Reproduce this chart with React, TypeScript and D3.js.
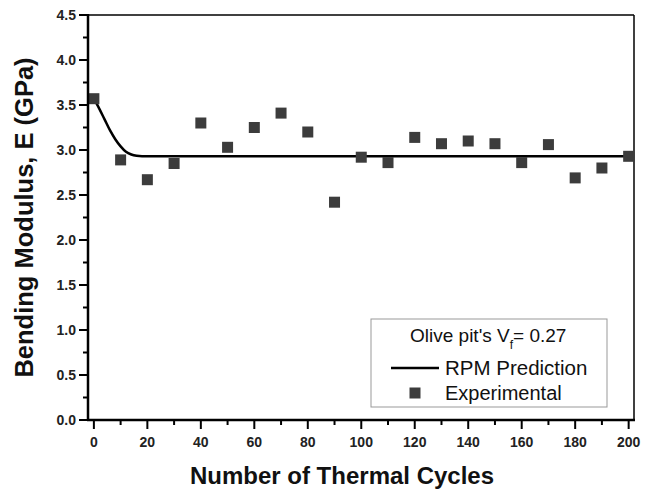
import React from "react";
import * as d3 from "d3";

const cycles = [0, 10, 20, 30, 40, 50, 60, 70, 80, 90, 100, 110, 120, 130, 140, 150, 160, 170, 180, 190, 200];
const modulus = [3.57, 2.89, 2.67, 2.85, 3.30, 3.03, 3.25, 3.41, 3.20, 2.42, 2.92, 2.86, 3.14, 3.07, 3.10, 3.07, 2.86, 3.06, 2.69, 2.80, 2.93];

const fitCycles = [0, 2, 4, 6, 8, 10, 12, 14, 16, 18, 20, 200];
const fitModulus = [3.57, 3.46, 3.34, 3.22, 3.12, 3.04, 2.98, 2.95, 2.935, 2.93, 2.93, 2.93];

const xMajor = [0, 20, 40, 60, 80, 100, 120, 140, 160, 180, 200];
const xMinor = [10, 30, 50, 70, 90, 110, 130, 150, 170, 190];
const yMajor = [0, 0.5, 1, 1.5, 2, 2.5, 3, 3.5, 4, 4.5];
const yMinor = [0.25, 0.75, 1.25, 1.75, 2.25, 2.75, 3.25, 3.75, 4.25];

const W = 651;
const H = 491;
const L = 88, R = 634, T = 15, B = 420;

export default function App() {
  const x = d3.scaleLinear().domain([-2.2, 202]).range([L, R]);
  const y = d3.scaleLinear().domain([0, 4.5]).range([B, T]);
  const line = d3
    .line<number>()
    .x((_, i) => x(fitCycles[i]))
    .y((d) => y(d))
    .curve(d3.curveMonotoneX);
  const font = "'Liberation Sans', Arial, sans-serif";
  const sq = 11;
  const markColor = "#3c3c3c";
  return (
    <svg
      width={W}
      height={H}
      style={{ position: "absolute", left: 0, top: 0, background: "#fff" }}
      fontFamily={font}
    >
      <rect x={0} y={0} width={W} height={H} fill="#fff" />
      {/* frame */}
      <line x1={L} x2={R} y1={T} y2={T} stroke="#000" strokeWidth={1.5} />
      <line x1={R} x2={R} y1={T} y2={B} stroke="#000" strokeWidth={1.5} />
      {/* fit line */}
      <path d={line(fitModulus) || ""} fill="none" stroke="#000" strokeWidth={2.5} />
      {/* points */}
      {cycles.map((c, i) => (
        <rect
          key={i}
          x={x(c) - sq / 2}
          y={y(modulus[i]) - sq / 2}
          width={sq}
          height={sq}
          fill={markColor}
        />
      ))}
      {/* axes */}
      <line x1={L} x2={L} y1={T - 1} y2={B + 1} stroke="#000" strokeWidth={2.5} />
      <line x1={L - 1} x2={R + 1} y1={B} y2={B} stroke="#000" strokeWidth={2.5} />
      {yMajor.map((v) => (
        <g key={"ym" + v}>
          <line x1={L - 9} x2={L} y1={y(v)} y2={y(v)} stroke="#000" strokeWidth={2} />
          <text
            x={L - 12}
            y={y(v)}
            dy="0.36em"
            textAnchor="end"
            fontSize={14}
            fontWeight="bold"
            fill="#222"
          >
            {v.toFixed(1)}
          </text>
        </g>
      ))}
      {yMinor.map((v) => (
        <line key={"yn" + v} x1={L - 5} x2={L} y1={y(v)} y2={y(v)} stroke="#000" strokeWidth={2} />
      ))}
      {xMajor.map((v) => (
        <g key={"xm" + v}>
          <line x1={x(v)} x2={x(v)} y1={B} y2={B + 9} stroke="#000" strokeWidth={2} />
          <text
            x={x(v)}
            y={447}
            textAnchor="middle"
            fontSize={14}
            fontWeight="bold"
            fill="#222"
          >
            {v}
          </text>
        </g>
      ))}
      {xMinor.map((v) => (
        <line key={"xn" + v} x1={x(v)} x2={x(v)} y1={B} y2={B + 5} stroke="#000" strokeWidth={2} />
      ))}
      {/* axis titles */}
      <text
        x={342}
        y={484}
        textAnchor="middle"
        fontSize={24}
        fontWeight="bold"
        fill="#111"
      >
        Number of Thermal Cycles
      </text>
      <text
        transform={`translate(33, ${(T + B) / 2}) rotate(-90)`}
        textAnchor="middle"
        fontSize={25.5}
        fontWeight="bold"
        fill="#111"
      >
        Bending Modulus, E (GPa)
      </text>
      {/* legend */}
      <rect x={371} y={319} width={236} height={88} fill="#fff" stroke="#999" strokeWidth={1} />
      <text x={410} y={342} fontSize={19} fill="#111">
        Olive pit's V
        <tspan dy={7} fontSize={12}>f</tspan>
        <tspan dy={-7}>= 0.27</tspan>
      </text>
      <line x1={391} x2={439} y1={368} y2={368} stroke="#000" strokeWidth={2.5} />
      <text x={445} y={375} fontSize={20.5} fill="#111">
        RPM Prediction
      </text>
      <rect x={415 - 5.5} y={393 - 5.5} width={11} height={11} fill={markColor} />
      <text x={445} y={400} fontSize={20} fill="#111">
        Experimental
      </text>
    </svg>
  );
}
